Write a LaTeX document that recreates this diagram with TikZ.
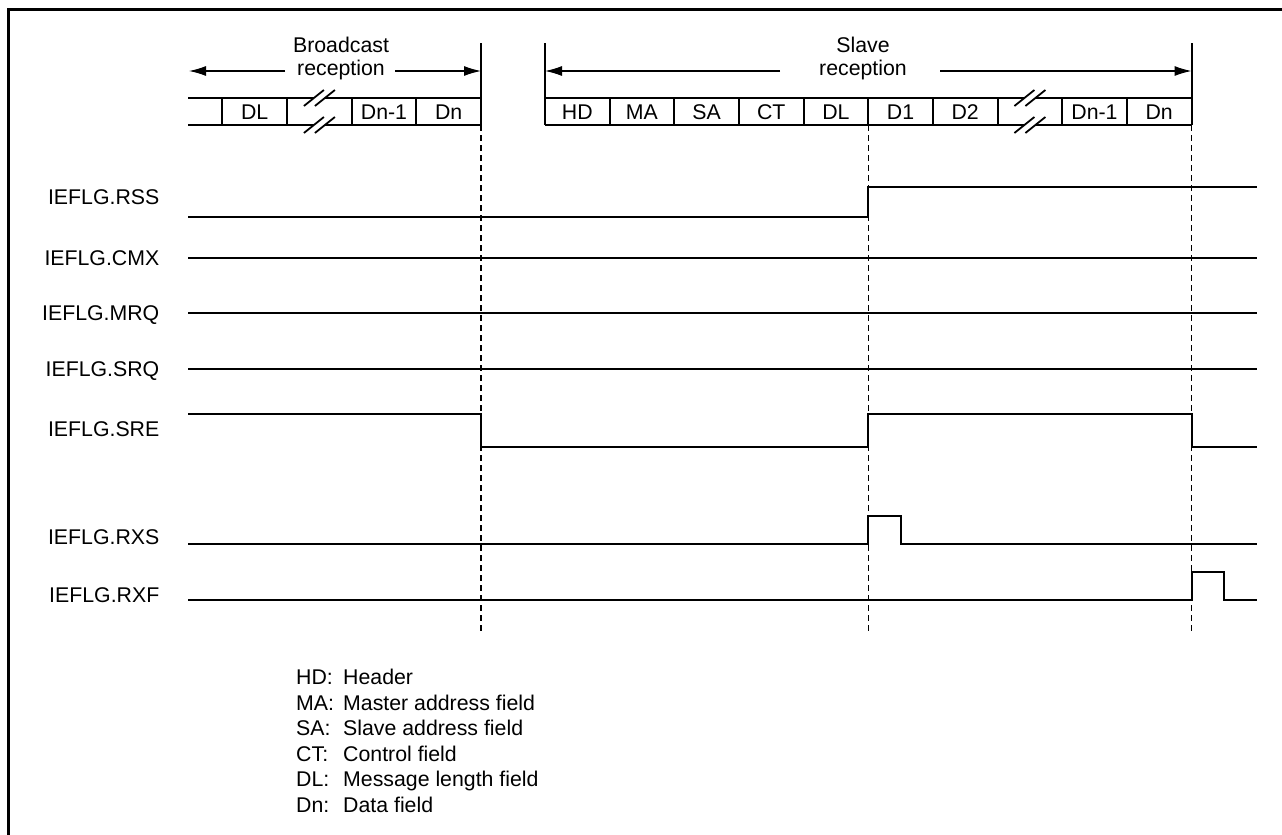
\documentclass[tikz,border=0pt]{standalone}
\usepackage{fontspec}
\setmainfont{Liberation Sans}
\usetikzlibrary{arrows.meta}
\begin{document}
\begin{tikzpicture}[x=1pt,y=-1pt,
  txt/.style={font=\fontsize{21.3}{25}\selectfont, inner sep=0pt, text height=15.2pt, text depth=0pt},
  boxline/.style={line width=2pt},
  sig/.style={line width=2pt, line join=miter},
  guide/.style={line width=1.2pt, dash pattern=on 6pt off 4pt},
  span/.style={line width=1.2pt, -{Latex[length=17pt,width=10pt]}},
  frame/.style={line width=2.7pt}]
\useasboundingbox (0,0) rectangle (1282,835);
% outer frame (left and top only)
\draw[frame] (8.7,845) -- (8.7,9.7) -- (1295,9.7);

% ---------- Broadcast frame ----------
\foreach \x in {222.4,287.05,351.7,416.35} \draw[boxline] (\x,98) -- (\x,125);
\draw[boxline] (481,43) -- (481,125);
\draw[boxline] (188,98) -- (313.9,98) (324.9,98) -- (481,98);
\draw[boxline] (188,125) -- (313.9,125) (324.9,125) -- (481,125);
\foreach \cx in {313.9,324.9} \foreach \yy in {98,125}
  \draw[line width=1.8pt] (\cx-10,\yy+8) -- (\cx+10,\yy-8);
\node[txt] (b-DL) at (254.7,111.5) {DL};
\node[txt] (b-Dn1) at (384.0,111.5) {Dn-1};
\node[txt] (b-Dn) at (448.7,111.5) {Dn};
\node[txt] (bc1) at (341,45) {Broadcast};
\node[txt] (bc2) at (341,68) {reception};
\coordinate (bcL) at (189,71);
\coordinate (bcR) at (481,71);
\coordinate (bcLg) at (285,71);
\coordinate (bcRg) at (395,71);
\draw[span] (bcLg) -- (bcL);
\draw[span] (bcRg) -- (bcR);

% ---------- Slave frame ----------
\foreach \k in {1,...,9} \draw[boxline] (545+\k*64.65,98) -- (545+\k*64.65,125);
\draw[boxline] (545,43) -- (545,125);
\draw[boxline] (1191.5,43) -- (1191.5,125);
\draw[boxline] (545,98) -- (1024.4,98) (1035.4,98) -- (1191.5,98);
\draw[boxline] (545,125) -- (1024.4,125) (1035.4,125) -- (1191.5,125);
\foreach \cx in {1024.4,1035.4} \foreach \yy in {98,125}
  \draw[line width=1.8pt] (\cx-10,\yy+8) -- (\cx+10,\yy-8);
\foreach \k/\t/\n in {0/HD/HD,1/MA/MA,2/SA/SA,3/CT/CT,4/DL/DL,5/D1/D1,6/D2/D2,8/Dn-1/Dn1,9/Dn/Dn}
  \node[txt] (s-\n) at (545+\k*64.65+32.3,111.5) {\t};
\node[txt] (sl1) at (863,45) {Slave};
\node[txt] (sl2) at (863,68) {reception};
\coordinate (slL) at (545,71);
\coordinate (slR) at (1191.5,71);
\coordinate (slLg) at (780,71);
\coordinate (slRg) at (940,71);
\draw[span] (slLg) -- (slL);
\draw[span] (slRg) -- (slR);

% ---------- guide lines ----------
\draw[guide] (481,125) -- (481,633);
\draw[guide] (868.25,125) -- (868.25,633);
\draw[guide] (1191.5,125) -- (1191.5,633);

% ---------- signals ----------
\node[txt, anchor=east] (l-RSS) at (159.5,197) {IEFLG.RSS};
\node[txt, anchor=east] (l-CMX) at (159.5,258) {IEFLG.CMX};
\node[txt, anchor=east] (l-MRQ) at (159.5,313) {IEFLG.MRQ};
\node[txt, anchor=east] (l-SRQ) at (159.5,369) {IEFLG.SRQ};
\node[txt, anchor=east] (l-SRE) at (159.5,429) {IEFLG.SRE};
\node[txt, anchor=east] (l-RXS) at (159.5,536.5) {IEFLG.RXS};
\node[txt, anchor=east] (l-RXF) at (159.5,594.5) {IEFLG.RXF};

\draw[sig] (188,217) -- (868.25,217) -- (868.25,187) -- (1257,187);
\draw[sig] (188,258) -- (1257,258);
\draw[sig] (188,313) -- (1257,313);
\draw[sig] (188,369) -- (1257,369);
\draw[sig] (188,414) -- (481,414) -- (481,447) -- (868.25,447) -- (868.25,414) -- (1191.5,414) -- (1191.5,447) -- (1257,447);
\draw[sig] (188,544) -- (868.25,544) -- (868.25,516) -- (900.5,516) -- (900.5,544) -- (1257,544);
\draw[sig] (188,600) -- (1191.5,600) -- (1191.5,572) -- (1224,572) -- (1224,600) -- (1257,600);

% ---------- legend ----------
\foreach \i/\a/\b in {0/HD:/Header,1/MA:/Master address field,2/SA:/Slave address field,3/CT:/Control field,4/DL:/Message length field,5/Dn:/Data field}{
  \node[txt, anchor=west] (k\i) at (296,677+\i*25.5) {\a};
  \node[txt, anchor=west] (d\i) at (343,677+\i*25.5) {\b};
}
\end{tikzpicture}
\end{document}
